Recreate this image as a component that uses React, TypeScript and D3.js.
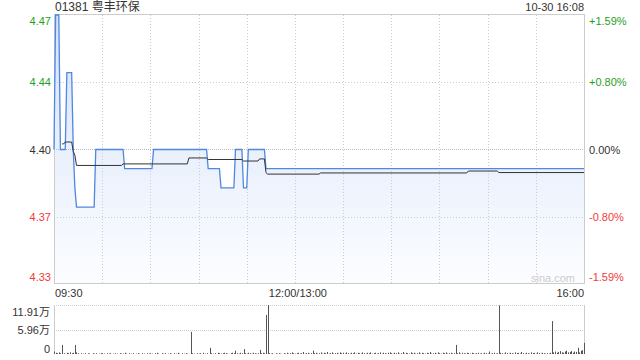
import React from "react";
import * as d3 from "d3";

// Intraday quote: 09:30–12:00 and 13:00–16:00 = 330 trading minutes
const title = "01381 粤丰环保";
const stamp = "10-30 16:08";
const prevClose = 4.4;
const totalMinutes = 330;

// Price runs: minute at which each price level starts
const priceStart = [0, 1, 4, 8, 12, 13, 14, 26, 44, 62, 96, 104, 113, 118, 121, 132];
const priceValue = [4.4, 4.47, 4.4, 4.44, 4.4, 4.38, 4.37, 4.4, 4.39, 4.4, 4.39, 4.38, 4.4, 4.38, 4.4, 4.39];

// Average price runs
const avgStart = [5, 7, 12, 13, 14, 43, 84, 96, 118, 128, 132, 133, 166, 258, 277];
const avgValue = [4.4029, 4.4039, 4.399, 4.397, 4.3917, 4.3925, 4.3956, 4.3948, 4.394, 4.3951, 4.388, 4.3872, 4.3878, 4.3888, 4.388];

// Per-minute volume (shares)
const volume = [
  6000, 3000, 2000, 4000, 2000, 22000, 2000, 0, 3000, 2000, 4000, 2000, 3000, 22000, 4000, 2000, 0, 2000, 1000, 2000, 0, 2000, 1000, 0, 2000, 1000, 2000, 0, 1000, 2000,
  2000, 1000, 0, 2000, 1000, 2000, 0, 1000, 2000, 1000, 0, 2000, 1000, 1000, 3000, 1000, 0, 2000, 1000, 2000, 0, 1000, 2000, 1000, 0, 2000, 1000, 0, 2000, 1000,
  2000, 1000, 0, 2000, 3000, 1000, 0, 2000, 1000, 2000, 0, 1000, 2000, 1000, 0, 2000, 1000, 3000, 1000, 0, 2000, 1000, 2000, 1000, 0, 54000, 2000, 1000, 0, 2000,
  1000, 2000, 0, 3000, 1000, 2000, 0, 15000, 2000, 1000, 2000, 0, 3000, 2000, 1000, 2000, 3000, 2000, 1000, 0, 2000, 3000, 2000, 8000, 2000, 1000, 3000, 2000, 12000, 2000,
  1000, 3000, 2000, 1000, 3000, 2000, 1000, 2000, 10000, 2000, 3000, 2000, 95000, 119100, 2000, 1000, 2000, 0, 2000, 1000, 2000, 1000, 0, 2000, 1000, 3000, 1000, 2000, 4000, 2000,
  1000, 2000, 3000, 1000, 2000, 5000, 1000, 2000, 3000, 1000, 2000, 8000, 2000, 3000, 1000, 2000, 4000, 1000, 3000, 2000, 5000, 1000, 2000, 4000, 1000, 2000, 3000, 1000, 4000, 2000,
  3000, 1000, 4000, 2000, 1000, 3000, 2000, 4000, 1000, 3000, 2000, 1000, 4000, 2000, 1000, 3000, 2000, 4000, 1000, 2000, 3000, 1000, 2000, 4000, 1000, 3000, 2000, 1000, 3000, 4000,
  2000, 1000, 3000, 2000, 4000, 1000, 2000, 5000, 1000, 3000, 2000, 1000, 4000, 2000, 3000, 1000, 2000, 4000, 1000, 3000, 2000, 1000, 3000, 2000, 5000, 1000, 2000, 3000, 1000, 4000,
  2000, 1000, 3000, 2000, 4000, 1000, 2000, 3000, 1000, 2000, 22000, 2000, 4000, 1000, 3000, 2000, 1000, 3000, 2000, 1000, 3000, 2000, 1000, 2000, 3000, 1000, 2000, 1000, 3000, 2000,
  1000, 6000, 1000, 2000, 3000, 1000, 2000, 118000, 3000, 2000, 1000, 4000, 2000, 1000, 3000, 2000, 1000, 4000, 2000, 3000, 1000, 5000, 2000, 1000, 3000, 2000, 1000, 4000, 2000, 3000,
  1000, 4000, 2000, 1000, 3000, 2000, 1000, 2000, 1000, 3000, 80000, 4000, 6000, 3000, 5000, 7000, 4000, 3000, 6000, 8000, 4000, 5000, 7000, 3000, 6000, 5000, 15000, 4000, 8000, 9000,
  27000,
];

// Axis ticks
const priceTicks = [4.47, 4.435, 4.4, 4.365, 4.33];
const priceTickLabels = ["4.47", "4.44", "4.40", "4.37", "4.33"];
const pctTickLabels = ["+1.59%", "+0.80%", "0.00%", "-0.80%", "-1.59%"];
const timeLabels = ["09:30", "12:00/13:00", "16:00"];
const timeLabelMinutes = [0, 150, 330];
const volTicks = [119100, 59550, 0];
const volTickLabels = ["11.91万", "5.96万", "0"];

const GREEN = "#1f9f1f";
const RED = "#f23a3a";
const NEUTRAL = "#333";
const FONT = "'Liberation Sans', Arial, 'Noto Sans CJK SC', sans-serif";

type Pt = [number, number];

// Turn level runs into minute points holding each level until the next run
function runsToPoints(starts: number[], values: number[], end: number): Pt[] {
  const pts: Pt[] = [];
  starts.forEach((s, i) => {
    const next = i + 1 < starts.length ? starts[i + 1] - 1 : end;
    pts.push([s, values[i]]);
    if (next > s) pts.push([next, values[i]]);
  });
  return pts;
}

export default function App() {
  const left = 54;
  const right = 584;
  const top = 15;
  const bottom = 284;
  const vTop = 305;
  const vBottom = 354;

  const x = d3.scaleLinear().domain([0, totalMinutes]).range([left, right]);
  const y = d3.scaleLinear().domain([4.33, 4.47]).range([bottom, top]);
  const vy = d3.scaleLinear().domain([0, d3.max(volume) as number]).range([vBottom, vTop]);

  const pricePts = runsToPoints(priceStart, priceValue, totalMinutes);
  const avgPts = runsToPoints(avgStart, avgValue, totalMinutes);

  const line = d3
    .line<Pt>()
    .x((d) => x(d[0]))
    .y((d) => y(d[1]));
  const area = d3
    .area<Pt>()
    .x((d) => x(d[0]))
    .y0(bottom)
    .y1((d) => y(d[1]));

  const gridMinutes = d3.range(30, totalMinutes, 30);
  const tickColor = (i: number) => (i < 2 ? GREEN : i === 2 ? NEUTRAL : RED);
  const priceLabelY = (i: number, v: number) =>
    i === 0 ? y(v) + 9.5 : i === priceTicks.length - 1 ? y(v) - 3 : y(v) + 4;

  return (
    <svg
      width={640}
      height={360}
      style={{ position: "fixed", left: 0, top: 0, background: "#fff" }}
      fontFamily={FONT}
    >
      <defs>
        <linearGradient id="priceFill" gradientUnits="userSpaceOnUse" x1={0} y1={top} x2={0} y2={bottom}>
          <stop offset="0" stopColor="#d6e3fa" />
          <stop offset="1" stopColor="#fcfdff" />
        </linearGradient>
      </defs>

      {/* header */}
      <text x={55} y={11} fontSize={12} fill={NEUTRAL}>
        {title}
      </text>
      <text x={right} y={11} fontSize={11} fill={NEUTRAL} textAnchor="end">
        {stamp}
      </text>

      {/* price area and grid */}
      <path d={area(pricePts) ?? ""} fill="url(#priceFill)" />
      {priceTicks.slice(1, -1).map((v) => (
        <line
          key={"h" + v}
          x1={left}
          x2={right}
          y1={Math.round(y(v)) + 0.5}
          y2={Math.round(y(v)) + 0.5}
          stroke={v === prevClose ? "#bbb" : "#ccc"}
          strokeDasharray={v === prevClose ? "1,1" : "1,2"}
        />
      ))}
      {gridMinutes.map((m) => (
        <line
          key={"v" + m}
          x1={Math.round(x(m)) + 0.5}
          x2={Math.round(x(m)) + 0.5}
          y1={top}
          y2={bottom}
          stroke="#ccc"
          strokeDasharray="1,2"
        />
      ))}
      <rect x={left + 0.5} y={top - 0.5} width={right - left} height={bottom - top} fill="none" stroke="#ccc" />

      <path d={line(pricePts) ?? ""} fill="none" stroke="#4f87e2" strokeWidth={1.3} />
      <path d={line(avgPts) ?? ""} fill="none" stroke="#333" strokeWidth={1} />

      <text x={553} y={282} fontSize={11} fill="#ccc" textAnchor="middle">
        sina.com
      </text>

      {/* price axes */}
      {priceTicks.map((v, i) => (
        <g key={"pl" + i}>
          <text x={51} y={priceLabelY(i, v)} fontSize={11} fill={tickColor(i)} textAnchor="end">
            {priceTickLabels[i]}
          </text>
          <text x={589} y={priceLabelY(i, v)} fontSize={11} fill={tickColor(i)}>
            {pctTickLabels[i]}
          </text>
        </g>
      ))}

      {/* time axis */}
      {timeLabels.map((t, i) => {
        const m = timeLabelMinutes[i];
        const anchor = i === 0 ? "start" : i === timeLabels.length - 1 ? "end" : "middle";
        const tx = i === 0 ? x(m) + 1 : i === timeLabels.length - 1 ? x(m) : x(m) + 3;
        return (
          <text key={t} x={tx} y={297} fontSize={11} fill={NEUTRAL} textAnchor={anchor}>
            {t}
          </text>
        );
      })}

      {/* volume panel */}
      {volTicks.slice(0, 2).map((v) => (
        <line
          key={"vg" + v}
          x1={left}
          x2={right}
          y1={Math.round(vy(v)) + 0.5}
          y2={Math.round(vy(v)) + 0.5}
          stroke="#ccc"
          strokeDasharray="1,1"
        />
      ))}
      <line x1={left + 0.5} x2={left + 0.5} y1={vTop} y2={vBottom} stroke="#ccc" />
      <line x1={right + 0.5} x2={right + 0.5} y1={vTop} y2={vBottom} stroke="#ccc" />
      {volume.map((v, m) =>
        v > 0 ? (
          <rect
            key={"vb" + m}
            x={Math.round(x(m))}
            y={vy(v)}
            width={1}
            height={vBottom - vy(v)}
            fill="#555"
          />
        ) : null
      )}
      {volTicks.map((v, i) => (
        <text
          key={"vl" + i}
          x={50}
          y={i === 0 ? vy(v) + 11 : i === 2 ? vy(v) - 1 : vy(v) + 4}
          fontSize={11}
          fill={NEUTRAL}
          textAnchor="end"
        >
          {volTickLabels[i]}
        </text>
      ))}
    </svg>
  );
}
